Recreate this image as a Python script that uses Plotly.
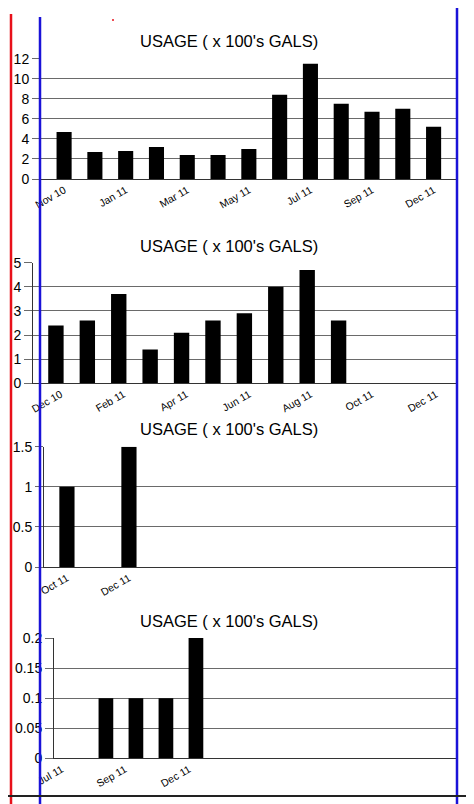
import plotly.graph_objects as go

# ---- data (x 100's gallons) ----
USAGE1_MONTHS = ["Nov 10", "Dec 10", "Jan 11", "Feb 11", "Mar 11", "Apr 11", "May 11",
                 "Jun 11", "Jul 11", "Aug 11", "Sep 11", "Oct 11", "Nov 11"]
USAGE1_VALUES = [4.7, 2.7, 2.8, 3.2, 2.4, 2.4, 3.0, 8.4, 11.5, 7.5, 6.7, 7.0, 5.2]
USAGE1_TICKS = ["Nov 10", "Jan 11", "Mar 11", "May 11", "Jul 11", "Sep 11", "Dec 11"]

USAGE2_MONTHS = ["Dec 10", "Jan 11", "Feb 11", "Mar 11", "Apr 11", "May 11", "Jun 11",
                 "Jul 11", "Aug 11", "Sep 11"]
USAGE2_VALUES = [2.4, 2.6, 3.7, 1.4, 2.1, 2.6, 2.9, 4.0, 4.7, 2.6]
USAGE2_TICKS = ["Dec 10", "Feb 11", "Apr 11", "Jun 11", "Aug 11", "Oct 11", "Dec 11"]

USAGE3_MONTHS = ["Oct 11", "Nov 11", "Dec 11"]
USAGE3_VALUES = [1.0, None, 1.5]
USAGE3_TICKS = ["Oct 11", "Dec 11"]

USAGE4_MONTHS = ["Sep 11", "Oct 11", "Nov 11", "Dec 11"]
USAGE4_VALUES = [0.1, 0.1, 0.1, 0.2]
USAGE4_TICKS = ["Jul 11", "Sep 11", "Dec 11"]

TITLE = "USAGE ( x 100's GALS)"
W, H = 474, 804
OFF = 8          # page body margin, the figure sits 8px in from the window corner
FW, FH = W - OFF, H - OFF
FONT = "Liberation Sans, Arial, sans-serif"


def fx(px):
    return (px - OFF) / FW


def fy(py):
    return 1 - (py - OFF) / FH


# layout per panel: plot box in window pixels, x range, y range, tick spacing
panels = [
    dict(months=USAGE1_MONTHS, values=USAGE1_VALUES, ticks=USAGE1_TICKS,
         tickpos=[0, 2, 4, 6, 8, 10, 12], box=(41, 457, 58.7, 179),
         xr=[-0.75, 12.76], yr=[0, 12], dtick=2, title_y=41),
    dict(months=USAGE2_MONTHS, values=USAGE2_VALUES, ticks=USAGE2_TICKS,
         tickpos=[0.15, 2.15, 4.15, 6.15, 8.1, 10.05, 12.1], box=(33, 457, 262.7, 383.3),
         xr=[-0.73, 12.77], yr=[0, 5], dtick=1, title_y=246),
    dict(months=USAGE3_MONTHS, values=USAGE3_VALUES, ticks=USAGE3_TICKS,
         tickpos=[0, 2], box=(44, 456, 446.7, 567),
         xr=[-0.74, 12.55], yr=[0, 1.5], dtick=0.5, title_y=429),
    dict(months=USAGE4_MONTHS, values=USAGE4_VALUES, ticks=USAGE4_TICKS,
         tickpos=[-1.47, 0.63, 2.77], box=(54, 457, 638, 758.3),
         xr=[-1.73, 11.7], yr=[0, 0.2], dtick=0.05, title_y=621),
]

fig = go.Figure()
layout = {}
annotations = []

for i, p in enumerate(panels, start=1):
    sfx = "" if i == 1 else str(i)
    left, right, top, bottom = p["box"]
    fig.add_trace(go.Bar(
        x=list(range(len(p["months"]))), y=p["values"],
        customdata=p["months"], hovertemplate="%{customdata}: %{y}<extra></extra>",
        marker=dict(color="black", line=dict(width=0)),
        width=0.49, xaxis="x" + sfx, yaxis="y" + sfx, showlegend=False,
    ))
    layout["xaxis" + sfx] = dict(
        domain=[fx(left), fx(right)], anchor="y" + sfx, range=p["xr"],
        tickmode="array", tickvals=p["tickpos"], ticktext=p["ticks"],
        tickangle=-30, tickfont=dict(size=10.5, color="black", family=FONT),
        showgrid=False, zeroline=False, showline=True, linecolor="#333333",
        linewidth=1.2, ticks="", fixedrange=True, automargin=False,
    )
    layout["yaxis" + sfx] = dict(
        domain=[fy(bottom), fy(top)], anchor="x" + sfx, range=p["yr"],
        dtick=p["dtick"], tick0=0, showgrid=True, gridcolor="#6a6a6a", gridwidth=1.2,
        zeroline=False, showline=(i != 1), linecolor="#333333", linewidth=1,
        ticks="outside", ticklen=8, tickcolor="#6a6a6a", tickwidth=1.2,
        tickfont=dict(size=14, color="black", family=FONT), fixedrange=True,
        automargin=False,
    )
    annotations.append(dict(
        text=TITLE, x=fx(229), y=fy(p["title_y"]), xref="paper", yref="paper",
        xanchor="center", yanchor="middle", showarrow=False,
        font=dict(size=16.5, color="black", family=FONT),
    ))

# page margin rules (red/blue verticals, black bottom rule, stray red dot)
shapes = [
    dict(type="line", xref="paper", yref="paper", x0=fx(11), x1=fx(11), y0=fy(14), y1=fy(H),
         line=dict(color="#e8101a", width=2.5)),
    dict(type="line", xref="paper", yref="paper", x0=fx(40), x1=fx(40), y0=fy(17), y1=fy(H),
         line=dict(color="#1a12d8", width=2.5)),
    dict(type="line", xref="paper", yref="paper", x0=fx(457), x1=fx(457), y0=fy(4), y1=fy(H),
         line=dict(color="#1a12d8", width=2.5)),
    dict(type="line", xref="paper", yref="paper", x0=fx(3), x1=fx(467), y0=fy(796), y1=fy(796),
         line=dict(color="#222222", width=2)),
    dict(type="circle", xref="paper", yref="paper", x0=fx(112), x1=fx(114), y0=fy(21), y1=fy(19),
         fillcolor="#e8101a", line=dict(width=0)),
]

fig.update_layout(
    **layout,
    annotations=annotations,
    shapes=shapes,
    width=FW, height=FH, autosize=False,
    margin=dict(l=0, r=0, t=0, b=0, autoexpand=False),
    paper_bgcolor="white", plot_bgcolor="white",
    bargap=0.5, showlegend=False,
    font=dict(family=FONT, color="black"),
)

fig.write_html("out.html", config={"displayModeBar": False})
